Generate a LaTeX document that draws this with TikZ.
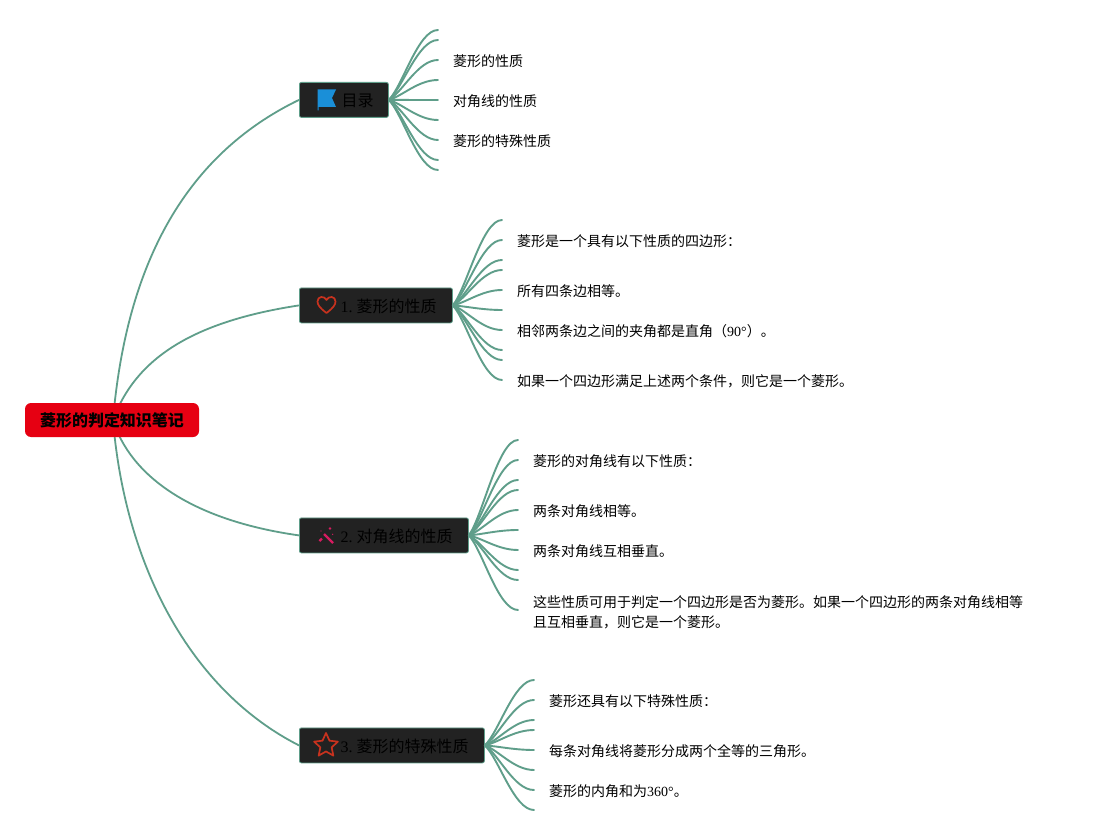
\documentclass[tikz,border=0pt]{standalone}
\usepackage{fontspec}
\setmainfont{Liberation Serif}
\newfontfamily\cjk{Noto Sans CJK SC}
\usetikzlibrary{calc,backgrounds,shapes.geometric}
\definecolor{branch}{HTML}{5F9E8A}
\definecolor{boxfill}{HTML}{222222}
\definecolor{rootred}{HTML}{E60012}
\definecolor{iconred}{HTML}{C8321E}
\definecolor{iconblue}{HTML}{1A8FD8}
\definecolor{iconpink}{HTML}{D81B60}
\newcommand\lat[1]{{\rmfamily #1}}
\tikzset{
  x=1pt,y=-1pt,
  link/.style={draw=branch,line width=1.8pt,line cap=round},
  twig/.style={draw=branch,line width=1.9pt,line cap=round},
  topic/.style={draw=branch,line width=0.8pt,fill=boxfill,rounded corners=2pt,minimum height=35pt,anchor=north west,inner sep=0pt,text=black},
  rootbox/.style={fill=rootred,rounded corners=6pt,minimum width=174pt,minimum height=34pt,inner sep=0pt,text=black,font=\fontsize{16}{20}\selectfont\cjk\bfseries},
  leaf/.style={anchor=base west,inner sep=0pt,text=black,font=\fontsize{14}{20}\selectfont\cjk,align=left},
  label/.style={anchor=base west,inner sep=0pt,text=black,font=\fontsize{16}{20}\selectfont\cjk},
}
\newcommand\fan[3]{%
  \foreach \e in {#3}{%
    \coordinate (#1-e\e) at (#2,\e);
    \path (#1.east |- #1-e\e) coordinate (#1-u\e);
    \draw[twig] (#1.east) .. controls ($(#1.east)!0.2!(#1-u\e)+(14,0)$) and ($(#1-e\e)+(-20,0)$) .. (#1-e\e);
  }%
}
\begin{document}
\begin{tikzpicture}
\useasboundingbox (0,0) rectangle (1093,840);
\node[rootbox] (root) at (112,420) {\raisebox{-1pt}{菱形的判定知识笔记}};
\node[topic,minimum width=89pt] (b0) at (299,82) {};
\node[topic,minimum width=153pt] (b1) at (299,287.5) {};
\node[topic,minimum width=169pt] (b2) at (299,517.5) {};
\node[topic,minimum width=185pt] (b3) at (299,727.5) {};
\node[label] (t0) at (341.5,107) {目录};
\node[label] (t1) at (340.5,312) {\lat{1.}\hspace{4pt}菱形的性质};
\node[label] (t2) at (340.5,542) {\lat{2.}\hspace{4pt}对角线的性质};
\node[label] (t3) at (340.5,752) {\lat{3.}\hspace{4pt}菱形的特殊性质};
\begin{pgfonlayer}{background}
\fill[white] (0,0) rectangle (1093,840);
\draw[link] (113,420) coordinate (r0) .. controls (126,270) and (181,157) .. (b0.west);
\draw[link] (r0) .. controls (135,360) and (190,322) .. (b1.west);
\draw[link] (r0) .. controls (130,475) and (190,520) .. (b2.west);
\draw[link] (r0) .. controls (125,565) and (190,690) .. (b3.west);
\end{pgfonlayer}
\fan{b0}{438}{30,40,60,80,100,120,140,160,170}
\fan{b1}{502}{220,240,260,270,290,310,330,350,360,380}
\fan{b2}{518}{440,460,480,490,510,530,550,570,580,610}
\fan{b3}{534}{680,700,720,730,750,770,790,810}
\node[leaf] (l01) at (453,67) {菱形的性质};
\node[leaf] (l02) at (453,107) {对角线的性质};
\node[leaf] (l03) at (453,147) {菱形的特殊性质};
\node[leaf] (l11) at (517,246.5) {菱形是一个具有以下性质的四边形：};
\node[leaf] (l12) at (517,296.5) {所有四条边相等。};
\node[leaf] (l13) at (517,336.5) {相邻两条边之间的夹角都是直角（\lat{90°}）。};
\node[leaf] (l14) at (517,386.5) {如果一个四边形满足上述两个条件，则它是一个菱形。};
\node[leaf] (l21) at (533,466.5) {菱形的对角线有以下性质：};
\node[leaf] (l22) at (533,516.5) {两条对角线相等。};
\node[leaf] (l23) at (533,556.5) {两条对角线互相垂直。};
\node[leaf,anchor=north west] (l24) at (533,595) {这些性质可用于判定一个四边形是否为菱形。如果一个四边形的两条对角线相等\\且互相垂直，则它是一个菱形。};
\node[leaf] (l31) at (549,706.5) {菱形还具有以下特殊性质：};
\node[leaf] (l32) at (549,756.5) {每条对角线将菱形分成两个全等的三角形。};
\node[leaf] (l33) at (549,796.5) {菱形的内角和为\lat{360°}。};
% flag
\fill[iconblue] (317.5,89.5) -- (336,89.5) -- (332,98) -- (336,107) -- (318.5,107) -- (318.5,110.5) -- (317.5,110.5) -- cycle;
% heart
\draw[iconred,line width=1.7pt,line join=round] (326.5,313) .. controls (320,308) and (317.5,305) .. (317.5,301.5) .. controls (317.5,296) and (324.5,295.5) .. (326.5,300) .. controls (328.5,295.5) and (335.5,296) .. (335.5,301.5) .. controls (335.5,305) and (333,308) .. (326.5,313) -- cycle;
% wand
\draw[iconpink,line width=2.4pt] (319.5,541) -- (322,538.5);
\draw[iconpink,line width=2.2pt] (324,534) -- (333,543);
\fill[iconpink] (330,528.5) circle (1.3pt);
\fill[iconpink] (332.7,534.3) circle (0.7pt);
\fill[iconpink] (321,531) circle (0.6pt);
% star
\node[star,star points=5,star point ratio=2.1,draw=iconred,line width=1.7pt,minimum size=25pt,inner sep=0pt,line join=round] (staricon) at (326,745.5) {};
\end{tikzpicture}
\end{document}
